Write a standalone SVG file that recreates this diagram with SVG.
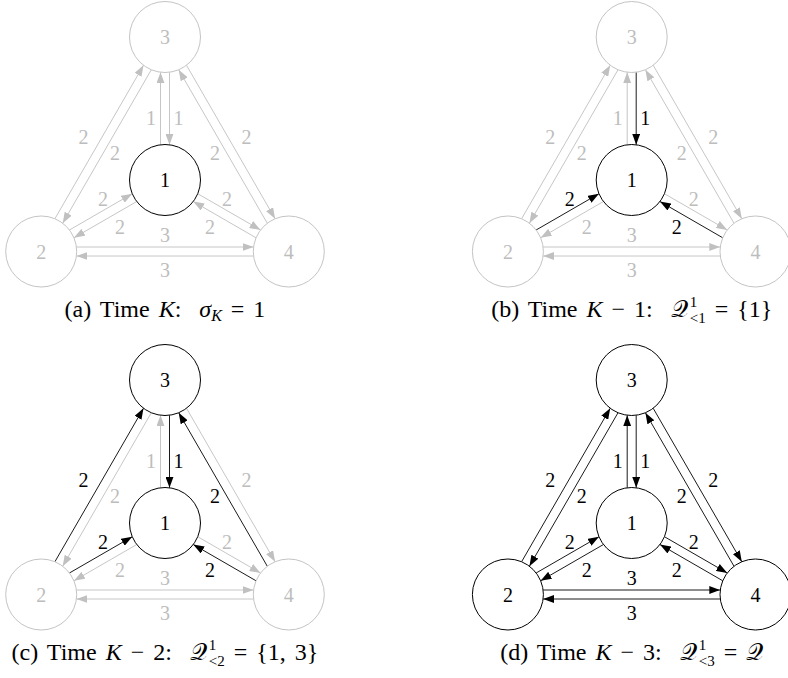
<svg xmlns="http://www.w3.org/2000/svg" width="788" height="678" viewBox="0 0 788 678">
<defs>
<marker id="ak" viewBox="0 0 11 8" refX="11" refY="4" markerWidth="11" markerHeight="8" markerUnits="userSpaceOnUse" orient="auto"><path d="M0,0 L11,4 L0,8 Z" fill="#000"/></marker>
<marker id="ag" viewBox="0 0 11 8" refX="11" refY="4" markerWidth="11" markerHeight="8" markerUnits="userSpaceOnUse" orient="auto"><path d="M0,0 L11,4 L0,8 Z" fill="#c0c0c0"/></marker>
</defs>
<style>
text{font-family:"Liberation Serif","DejaVu Serif",serif}
.nk circle{fill:#fff;stroke:#000;stroke-width:1}
.ng circle{fill:#fff;stroke:#c4c4c4;stroke-width:1}
.nk text{fill:#000}
.ng text{fill:#bdbdbd}
.nd text,.lb text{font-size:20px;text-anchor:middle}
.ek{stroke:#000;stroke-width:0.9;fill:none;marker-end:url(#ak)}
.eg{stroke:#c0c0c0;stroke-width:0.9;fill:none;marker-end:url(#ag)}
.tk{fill:#000}
.tg{fill:#bdbdbd}
.cap{font-size:24px;text-anchor:middle;fill:#000;white-space:pre;word-spacing:3px}
.i{font-style:italic}
.s{font-size:16px}
.ss{font-size:15px}
</style>

<!-- Panel (a) -->
<g id="panel-a">
<g id="a-connectors">
<path class="eg" d="M160.5,144.79 L160.5,72.21"/>
<path class="eg" d="M169.5,72.21 L169.5,144.79"/>
<path class="eg" d="M54.9,218.75 L143.5,65.25"/>
<path class="eg" d="M151.3,69.75 L62.7,223.25"/>
<path class="eg" d="M186.5,65.25 L275.1,218.75"/>
<path class="eg" d="M267.3,223.25 L178.7,69.75"/>
<path class="eg" d="M69.44,229.99 L132.26,193.71"/>
<path class="eg" d="M136.76,201.51 L73.94,237.79"/>
<path class="eg" d="M197.74,193.71 L260.56,229.99"/>
<path class="eg" d="M256.06,237.79 L193.24,201.51"/>
<path class="eg" d="M76.41,247 L253.59,247"/>
<path class="eg" d="M253.59,256 L76.41,256"/>
</g>
<g id="a-labels" class="lb">
<text class="tg" x="151" y="125">1</text>
<text class="tg" x="178.5" y="125">1</text>
<text class="tg" x="83.5" y="143.7">2</text>
<text class="tg" x="115" y="160.3">2</text>
<text class="tg" x="246.5" y="143.7">2</text>
<text class="tg" x="215" y="160.3">2</text>
<text class="tg" x="103" y="206.3">2</text>
<text class="tg" x="120" y="233.7">2</text>
<text class="tg" x="227" y="206.3">2</text>
<text class="tg" x="210" y="233.7">2</text>
<text class="tg" x="165" y="242">3</text>
<text class="tg" x="165" y="277">3</text>
</g>
<g id="a-n3" class="nd ng"><circle cx="165" cy="37" r="35.5"/><text x="165" y="44">3</text></g>
<g id="a-n1" class="nd nk"><circle cx="165" cy="180" r="35.5"/><text x="165" y="187">1</text></g>
<g id="a-n2" class="nd ng"><circle cx="41.2" cy="251.5" r="35.5"/><text x="41.2" y="258.5">2</text></g>
<g id="a-n4" class="nd ng"><circle cx="288.8" cy="251.5" r="35.5"/><text x="288.8" y="258.5">4</text></g>
<text id="a-caption" class="cap" x="165" y="317">(a) Time <tspan class="i">K</tspan>:  <tspan class="i">σ</tspan><tspan class="i s" dy="4">K</tspan><tspan dy="-4"> = 1</tspan></text>
</g>

<!-- Panel (b) -->
<g id="panel-b" transform="translate(466.7,0)">
<g id="b-connectors">
<path class="eg" d="M160.5,144.79 L160.5,72.21"/>
<path class="ek" d="M169.5,72.21 L169.5,144.79"/>
<path class="eg" d="M54.9,218.75 L143.5,65.25"/>
<path class="eg" d="M151.3,69.75 L62.7,223.25"/>
<path class="eg" d="M186.5,65.25 L275.1,218.75"/>
<path class="eg" d="M267.3,223.25 L178.7,69.75"/>
<path class="ek" d="M69.44,229.99 L132.26,193.71"/>
<path class="eg" d="M136.76,201.51 L73.94,237.79"/>
<path class="eg" d="M197.74,193.71 L260.56,229.99"/>
<path class="ek" d="M256.06,237.79 L193.24,201.51"/>
<path class="eg" d="M76.41,247 L253.59,247"/>
<path class="eg" d="M253.59,256 L76.41,256"/>
</g>
<g id="b-labels" class="lb">
<text class="tg" x="151" y="125">1</text>
<text class="tk" x="178.5" y="125">1</text>
<text class="tg" x="83.5" y="143.7">2</text>
<text class="tg" x="115" y="160.3">2</text>
<text class="tg" x="246.5" y="143.7">2</text>
<text class="tg" x="215" y="160.3">2</text>
<text class="tk" x="103" y="206.3">2</text>
<text class="tg" x="120" y="233.7">2</text>
<text class="tg" x="227" y="206.3">2</text>
<text class="tk" x="210" y="233.7">2</text>
<text class="tg" x="165" y="242">3</text>
<text class="tg" x="165" y="277">3</text>
</g>
<g id="b-n3" class="nd ng"><circle cx="165" cy="37" r="35.5"/><text x="165" y="44">3</text></g>
<g id="b-n1" class="nd nk"><circle cx="165" cy="180" r="35.5"/><text x="165" y="187">1</text></g>
<g id="b-n2" class="nd ng"><circle cx="41.2" cy="251.5" r="35.5"/><text x="41.2" y="258.5">2</text></g>
<g id="b-n4" class="nd ng"><circle cx="288.8" cy="251.5" r="35.5"/><text x="288.8" y="258.5">4</text></g>
<text id="b-caption" class="cap" x="165" y="317">(b) Time <tspan class="i">K</tspan> − 1:  𝒬<tspan class="ss" dx="2" dy="-10">1</tspan><tspan class="ss" dx="-7.5" dy="16">&lt;1</tspan><tspan dy="-6"> = {1}</tspan></text>
</g>

<!-- Panel (c) -->
<g id="panel-c" transform="translate(0,343)">
<g id="c-connectors">
<path class="eg" d="M160.5,144.79 L160.5,72.21"/>
<path class="ek" d="M169.5,72.21 L169.5,144.79"/>
<path class="ek" d="M54.9,218.75 L143.5,65.25"/>
<path class="eg" d="M151.3,69.75 L62.7,223.25"/>
<path class="eg" d="M186.5,65.25 L275.1,218.75"/>
<path class="ek" d="M267.3,223.25 L178.7,69.75"/>
<path class="ek" d="M69.44,229.99 L132.26,193.71"/>
<path class="eg" d="M136.76,201.51 L73.94,237.79"/>
<path class="eg" d="M197.74,193.71 L260.56,229.99"/>
<path class="ek" d="M256.06,237.79 L193.24,201.51"/>
<path class="eg" d="M76.41,247 L253.59,247"/>
<path class="eg" d="M253.59,256 L76.41,256"/>
</g>
<g id="c-labels" class="lb">
<text class="tg" x="151" y="125">1</text>
<text class="tk" x="178.5" y="125">1</text>
<text class="tk" x="83.5" y="143.7">2</text>
<text class="tg" x="115" y="160.3">2</text>
<text class="tg" x="246.5" y="143.7">2</text>
<text class="tk" x="215" y="160.3">2</text>
<text class="tk" x="103" y="206.3">2</text>
<text class="tg" x="120" y="233.7">2</text>
<text class="tg" x="227" y="206.3">2</text>
<text class="tk" x="210" y="233.7">2</text>
<text class="tg" x="165" y="242">3</text>
<text class="tg" x="165" y="277">3</text>
</g>
<g id="c-n3" class="nd nk"><circle cx="165" cy="37" r="35.5"/><text x="165" y="44">3</text></g>
<g id="c-n1" class="nd nk"><circle cx="165" cy="180" r="35.5"/><text x="165" y="187">1</text></g>
<g id="c-n2" class="nd ng"><circle cx="41.2" cy="251.5" r="35.5"/><text x="41.2" y="258.5">2</text></g>
<g id="c-n4" class="nd ng"><circle cx="288.8" cy="251.5" r="35.5"/><text x="288.8" y="258.5">4</text></g>
<text id="c-caption" class="cap" x="165" y="317">(c) Time <tspan class="i">K</tspan> − 2:  𝒬<tspan class="ss" dx="2" dy="-10">1</tspan><tspan class="ss" dx="-7.5" dy="16">&lt;2</tspan><tspan dy="-6"> = {1, 3}</tspan></text>
</g>

<!-- Panel (d) -->
<g id="panel-d" transform="translate(466.7,343)">
<g id="d-connectors">
<path class="ek" d="M160.5,144.79 L160.5,72.21"/>
<path class="ek" d="M169.5,72.21 L169.5,144.79"/>
<path class="ek" d="M54.9,218.75 L143.5,65.25"/>
<path class="ek" d="M151.3,69.75 L62.7,223.25"/>
<path class="ek" d="M186.5,65.25 L275.1,218.75"/>
<path class="ek" d="M267.3,223.25 L178.7,69.75"/>
<path class="ek" d="M69.44,229.99 L132.26,193.71"/>
<path class="ek" d="M136.76,201.51 L73.94,237.79"/>
<path class="ek" d="M197.74,193.71 L260.56,229.99"/>
<path class="ek" d="M256.06,237.79 L193.24,201.51"/>
<path class="ek" d="M76.41,247 L253.59,247"/>
<path class="ek" d="M253.59,256 L76.41,256"/>
</g>
<g id="d-labels" class="lb">
<text class="tk" x="151" y="125">1</text>
<text class="tk" x="178.5" y="125">1</text>
<text class="tk" x="83.5" y="143.7">2</text>
<text class="tk" x="115" y="160.3">2</text>
<text class="tk" x="246.5" y="143.7">2</text>
<text class="tk" x="215" y="160.3">2</text>
<text class="tk" x="103" y="206.3">2</text>
<text class="tk" x="120" y="233.7">2</text>
<text class="tk" x="227" y="206.3">2</text>
<text class="tk" x="210" y="233.7">2</text>
<text class="tk" x="165" y="242">3</text>
<text class="tk" x="165" y="277">3</text>
</g>
<g id="d-n3" class="nd nk"><circle cx="165" cy="37" r="35.5"/><text x="165" y="44">3</text></g>
<g id="d-n1" class="nd nk"><circle cx="165" cy="180" r="35.5"/><text x="165" y="187">1</text></g>
<g id="d-n2" class="nd nk"><circle cx="41.2" cy="251.5" r="35.5"/><text x="41.2" y="258.5">2</text></g>
<g id="d-n4" class="nd nk"><circle cx="288.8" cy="251.5" r="35.5"/><text x="288.8" y="258.5">4</text></g>
<text id="d-caption" class="cap" x="165" y="317">(d) Time <tspan class="i">K</tspan> − 3:  𝒬<tspan class="ss" dx="2" dy="-10">1</tspan><tspan class="ss" dx="-7.5" dy="16">&lt;3</tspan><tspan dy="-6"> = 𝒬</tspan></text>
</g>
</svg>
